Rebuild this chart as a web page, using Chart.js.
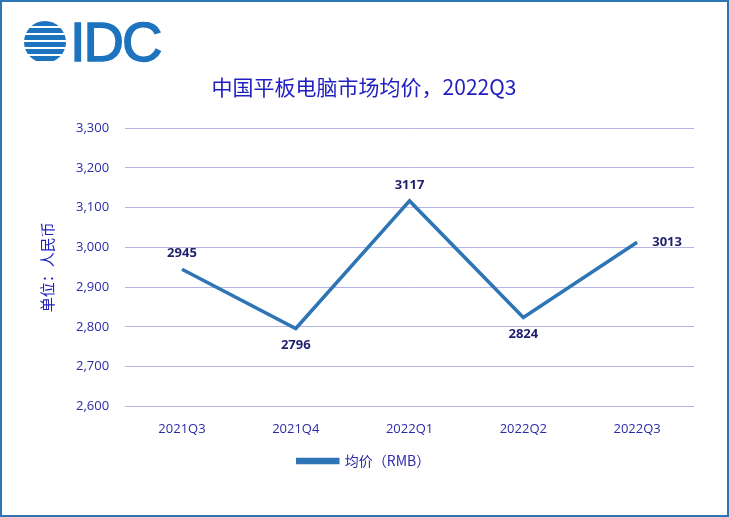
<!DOCTYPE html>
<html>
<head>
<meta charset="utf-8">
<script src="https://cdn.jsdelivr.net/npm/chart.js@4"></script>
<style>
  html, body { margin: 0; padding: 0; background: #fff; }
  #frame { position: relative; width: 725px; height: 513px; border: 2px solid #2E75B6; }
  #logo { position: absolute; left: 22px; top: 12px; display: flex; align-items: center; }
  #ball { width: 42px; height: 42px; border-radius: 50%;
    background: repeating-linear-gradient(180deg, #1E73BE 0 5px, #fff 5px 7px); }
  #logoText { font-family: "Liberation Sans", Arial, sans-serif; font-size: 56px; color: #1E73BE;
    margin-left: 4px; letter-spacing: -2px; line-height: 1; -webkit-text-stroke: 1.5px #1E73BE; }
  #wrap { position: absolute; left: 0; top: 0; width: 725px; height: 513px; }
</style>
</head>
<body>
<div id="frame">
  <div id="wrap"><canvas id="c"></canvas></div>
  <div id="logo"><div id="ball"></div><div id="logoText">IDC</div></div>
</div>
<script>
// Chart data
const quarters = ['2021Q3', '2021Q4', '2022Q1', '2022Q2', '2022Q3'];
const avgPrice = [2945, 2796, 3117, 2824, 3013];
const labelAbove = [true, false, true, false, false];

const textBlue = '#2B2BA8';
const lineBlue = '#2E75B6';

// Draw value labels next to points
const valueLabels = {
    id: 'valueLabels',
    afterDatasetsDraw(chart) {
        const ctx = chart.ctx;
        const meta = chart.getDatasetMeta(0);
        ctx.save();
        ctx.font = 'bold 13px "Open Sans", sans-serif';
        ctx.fillStyle = '#1F1F6E';
        ctx.textAlign = 'center';
        ctx.textBaseline = 'middle';
        meta.data.forEach(function(pt, i) {
            let x = pt.x, y = pt.y;
            if (i === quarters.length - 1) { x += 30; }
            else if (labelAbove[i]) { y -= 16; }
            else { y += 17; }
            ctx.fillText(String(avgPrice[i]), x, y);
        });
        ctx.restore();
    }
};

new Chart(document.getElementById('c'), {
    type: 'line',
    data: {
        labels: quarters,
        datasets: [{
            label: '均价（RMB）',
            data: avgPrice,
            borderColor: lineBlue,
            backgroundColor: lineBlue,
            borderWidth: 3.5,
            pointRadius: 0,
            tension: 0
        }]
    },
    options: {
        responsive: true,
        maintainAspectRatio: false,
        animation: false,
        layout: { padding: { left: 32, right: 33, top: 10, bottom: 37 } },
        plugins: {
            title: {
                display: true,
                text: '中国平板电脑市场均价，2022Q3',
                color: '#2020C0',
                font: { family: '"Noto Sans CJK SC", sans-serif', size: 21, weight: 'normal' },
                padding: { top: 62, bottom: 29 }
            },
            legend: {
                position: 'bottom',
                labels: {
                    color: textBlue,
                    font: { family: '"Noto Sans CJK SC", sans-serif', size: 14 },
                    boxWidth: 40,
                    boxHeight: 3,
                    padding: 10
                }
            },
            tooltip: { enabled: false }
        },
        scales: {
            x: {
                offset: true,
                grid: { display: false },
                border: { display: false },
                ticks: { color: textBlue, font: { family: '"Open Sans", sans-serif', size: 13 }, padding: 7 }
            },
            y: {
                min: 2600,
                max: 3300,
                ticks: {
                    stepSize: 100,
                    color: textBlue,
                    font: { family: '"Open Sans", sans-serif', size: 13 },
                    padding: 16,
                    callback: function(v) { return v.toLocaleString('en-US'); }
                },
                grid: { color: '#B4B4E6', lineWidth: 1, drawTicks: false },
                border: { display: false },
                title: {
                    display: true,
                    text: '单位：人民币',
                    color: '#2020C0',
                    font: { family: '"Noto Sans CJK SC", sans-serif', size: 15 }
                }
            }
        }
    },
    plugins: [valueLabels]
});
</script>
</body>
</html>
